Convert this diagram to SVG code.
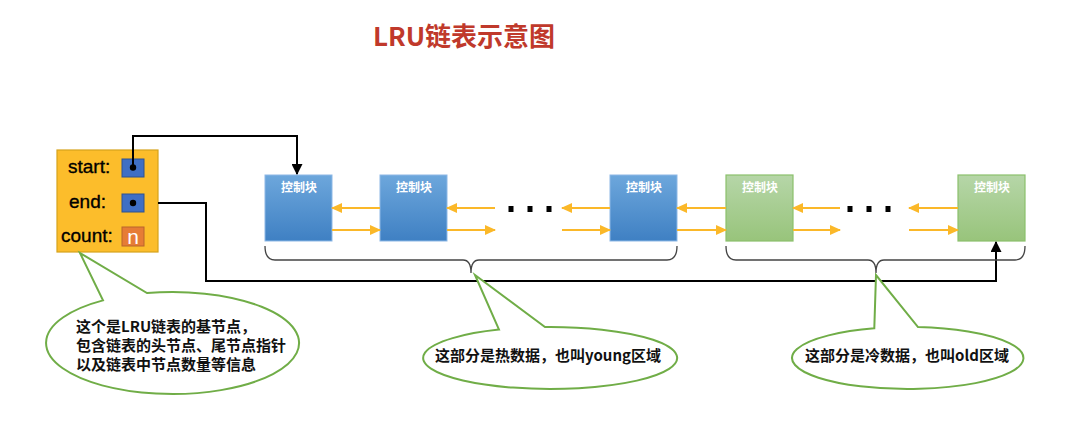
<svg xmlns="http://www.w3.org/2000/svg" width="1074" height="436" viewBox="0 0 1074 436">
<style>
.cjk{font-family:"Noto Sans CJK SC","Noto Sans",sans-serif;}
.blk{font-size:12px;font-weight:bold;fill:#ffffff;text-anchor:middle;}
.lbl{font-family:"Liberation Sans",Arial,sans-serif;font-size:19px;fill:#000;stroke:#000;stroke-width:0.35;}
.call{font-size:15px;font-weight:bold;fill:#111;}
.oa{stroke:#FBB829;stroke-width:2;fill:none;marker-end:url(#oarr);}
.bl{stroke:#000;stroke-width:2;fill:none;}
.brace{stroke:#444;stroke-width:1.3;fill:none;}
.bubble{fill:#fff;stroke:#70AD47;stroke-width:2;}
.bbox{fill:url(#gBlue);stroke:#8DB8E6;stroke-width:1;}
.gbox{fill:url(#gGreen);stroke:#8BC06C;stroke-width:1.2;}
.dot{fill:#000;}
</style>
<defs>
<linearGradient id="gBlue" x1="0" y1="0" x2="0" y2="1">
<stop offset="0" stop-color="#6DA7DC"/><stop offset="1" stop-color="#3F80C3"/>
</linearGradient>
<linearGradient id="gGreen" x1="0" y1="0" x2="0" y2="1">
<stop offset="0" stop-color="#B6D6A8"/><stop offset="1" stop-color="#98C47B"/>
</linearGradient>
<marker id="oarr" markerUnits="userSpaceOnUse" markerWidth="11" markerHeight="10" refX="10" refY="5" orient="auto">
<path d="M0,0 L11,5 L0,10 Z" fill="#FBB829"/>
</marker>
<marker id="barr" markerUnits="userSpaceOnUse" markerWidth="11" markerHeight="11" refX="10" refY="5.5" orient="auto">
<path d="M0,0 L11,5.5 L0,11 Z" fill="#000"/>
</marker>
</defs>
<rect width="1074" height="436" fill="#fff"/>

<text class="cjk" x="464" y="46" font-size="26" font-weight="bold" fill="#C0392B" text-anchor="middle">LRU链表示意图</text>

<g id="base">
<rect x="57" y="150" width="101" height="102" fill="#FCBD2B" stroke="#D6A21C" stroke-width="1.2"/>
<text class="lbl" x="68" y="173">start:</text>
<text class="lbl" x="69" y="208">end:</text>
<text class="lbl" x="61" y="242">count:</text>
<rect x="122" y="159" width="22" height="18" fill="#3F6FC4" stroke="#2F528F" stroke-width="1"/>
<rect x="122" y="194" width="22" height="18" fill="#3F6FC4" stroke="#2F528F" stroke-width="1"/>
<circle cx="133" cy="167.5" r="3.2" fill="#000"/>
<circle cx="133" cy="203" r="3.2" fill="#000"/>
<rect x="122" y="227" width="22" height="19" fill="#E67C35" stroke="#B8652C" stroke-width="1"/>
<text x="133" y="244" font-family="Liberation Sans,Arial,sans-serif" font-size="21" fill="#fff" text-anchor="middle">n</text>
</g>

<g id="n1"><rect class="bbox" x="265" y="175" width="67" height="66"/><text class="cjk blk" x="299" y="192">控制块</text></g>
<g id="n2"><rect class="bbox" x="380" y="175" width="67" height="66"/><text class="cjk blk" x="414" y="192">控制块</text></g>
<g id="n3"><rect class="bbox" x="610" y="175" width="67" height="66"/><text class="cjk blk" x="644" y="192">控制块</text></g>
<g id="n4"><rect class="gbox" x="726" y="175" width="67" height="66"/><text class="cjk blk" x="760" y="192">控制块</text></g>
<g id="n5"><rect class="gbox" x="958" y="175" width="67" height="66"/><text class="cjk blk" x="992" y="192">控制块</text></g>

<g id="connectors">
<path class="oa" d="M380,208 L332,208"/>
<path class="oa" d="M332,230 L380,230"/>
<path class="oa" d="M495,208 L447,208"/>
<path class="oa" d="M447,230 L495,230"/>
<path class="oa" d="M610,208 L562,208"/>
<path class="oa" d="M562,230 L610,230"/>
<path class="oa" d="M726,208 L677,208"/>
<path class="oa" d="M677,230 L726,230"/>
<path class="oa" d="M840,208 L793,208"/>
<path class="oa" d="M793,230 L840,230"/>
<path class="oa" d="M958,208 L909,208"/>
<path class="oa" d="M909,230 L958,230"/>
<path class="bl" d="M133,167 L133,136 L297,136 L297,174" marker-end="url(#barr)"/>
<path class="bl" d="M158,203 L206,203 L206,281 L996,281 L996,242" marker-end="url(#barr)"/>
</g>

<g id="dots">
<rect class="dot" x="508.5" y="206" width="5" height="6"/>
<rect class="dot" x="527.5" y="206" width="5" height="6"/>
<rect class="dot" x="546.5" y="206" width="5" height="6"/>
<rect class="dot" x="847.5" y="206" width="5" height="6"/>
<rect class="dot" x="866.5" y="206" width="5" height="6"/>
<rect class="dot" x="885.5" y="206" width="5" height="6"/>
</g>

<g id="braces">
<path class="brace" d="M265,246 Q265,260 275,260 L463,260 Q471,260 471,273 Q471,260 479,260 L667,260 Q677,260 677,246"/>
<path class="brace" d="M726,246 Q726,260 736,260 L868,260 Q876,260 876,273 Q876,260 884,260 L1015,260 Q1025,260 1025,246"/>
</g>

<g id="callout1">
<path class="bubble" d="M147,293.05 A126.5,51 0 1 1 103,300.4 L80,253 Z"/>
<text class="cjk call" x="76" y="332">这个是LRU链表的基节点，</text>
<text class="cjk call" x="76" y="351">包含链表的头节点、尾节点指针</text>
<text class="cjk call" x="76" y="370">以及链表中节点数量等信息</text>
</g>
<g id="callout2">
<path class="bubble" d="M545,327 A127,31 0 1 1 499,329.6 L475,275 Z"/>
<text class="cjk call" x="548" y="361" text-anchor="middle">这部分是热数据，也叫young区域</text>
</g>
<g id="callout3">
<path class="bubble" d="M918,327.1 A115.7,31 0 1 1 874.3,328.3 L876,275 Z"/>
<text class="cjk call" x="907" y="361" text-anchor="middle">这部分是冷数据，也叫old区域</text>
</g>
</svg>
